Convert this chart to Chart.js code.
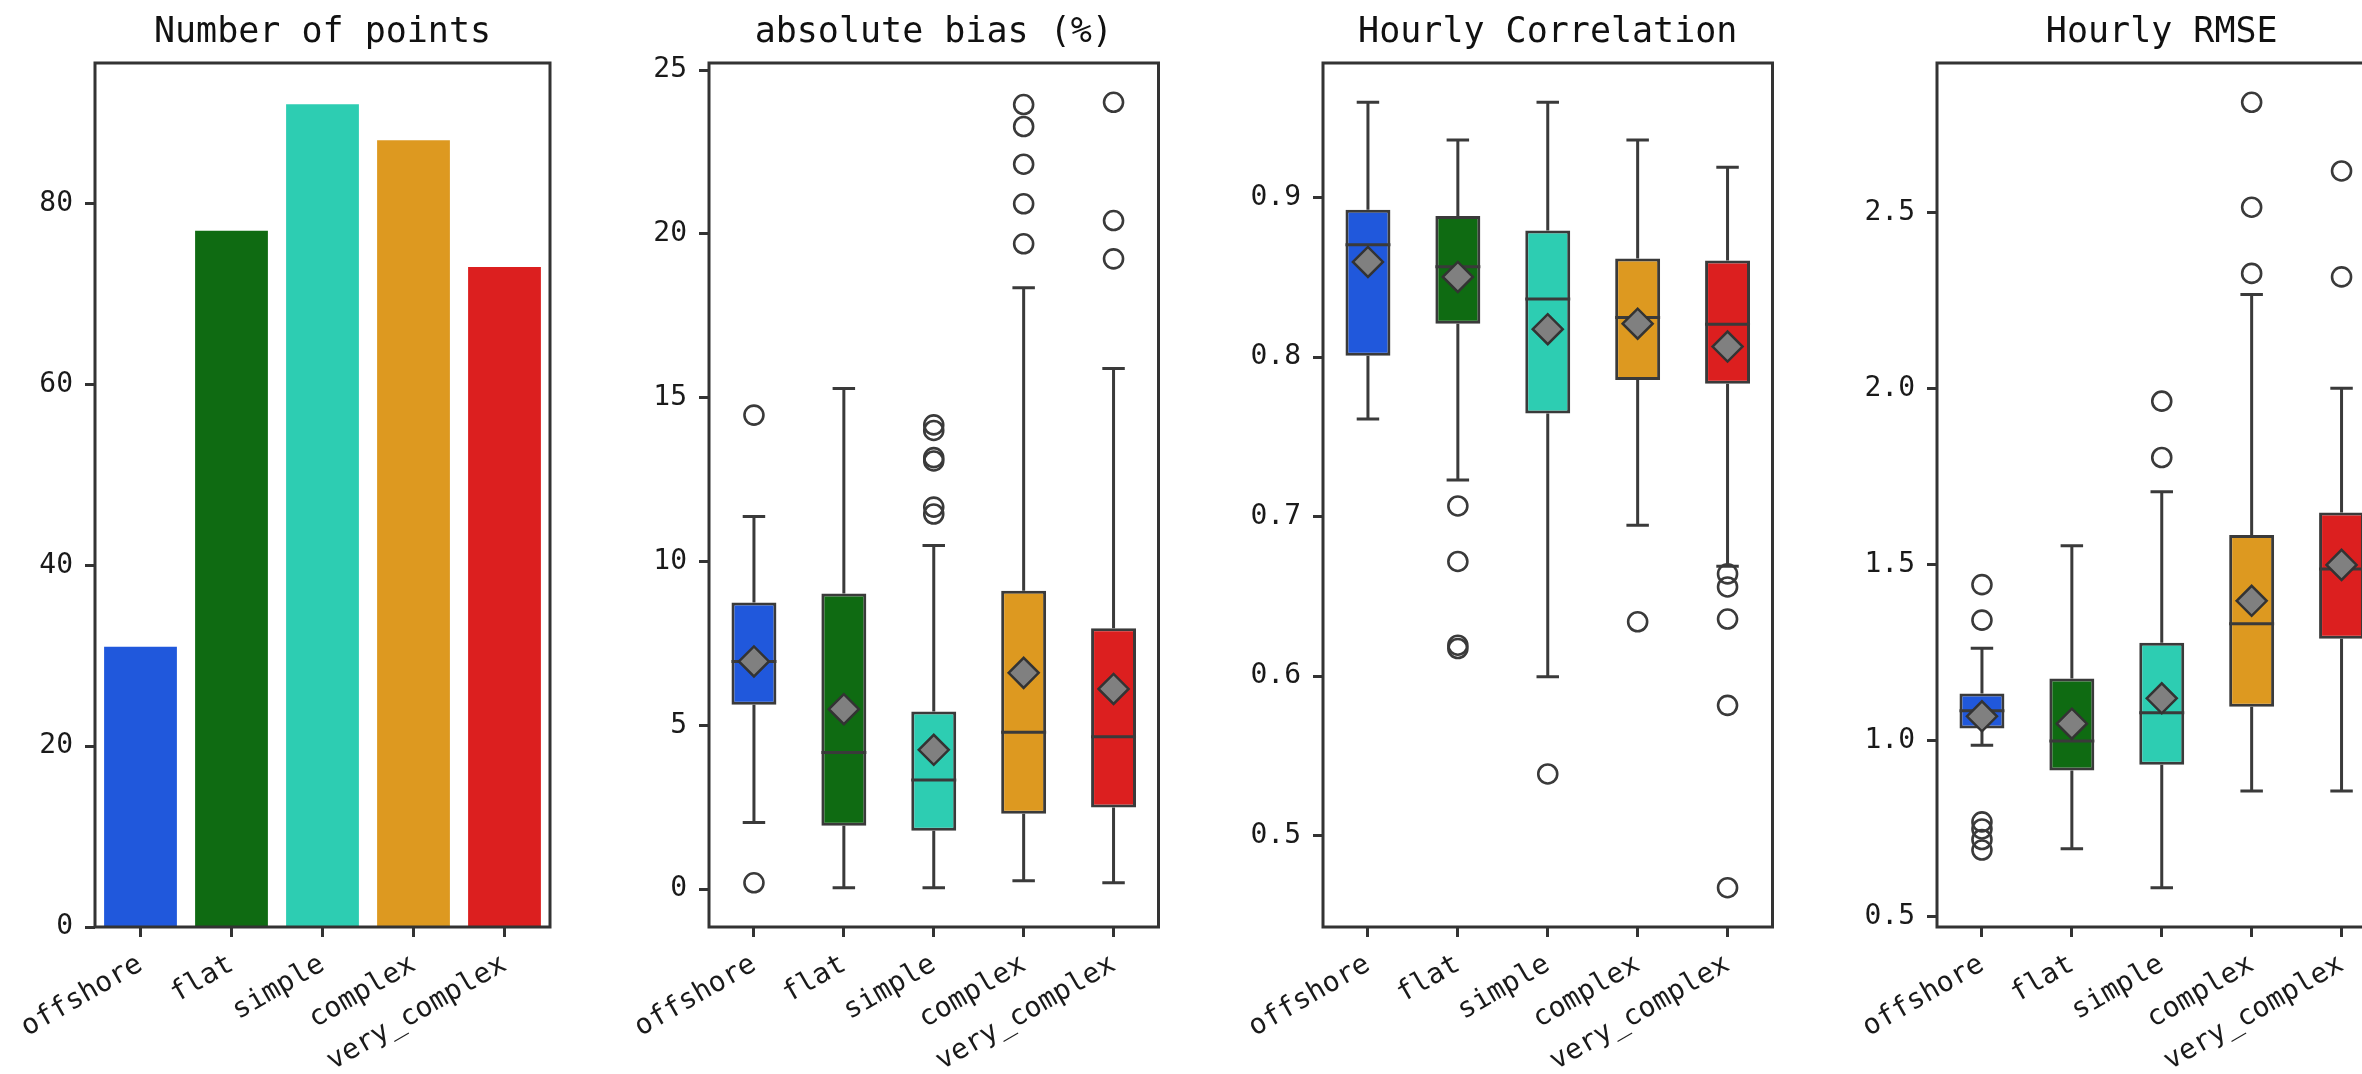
<!DOCTYPE html>
<html>
<head>
<meta charset="utf-8">
<script src="https://cdn.jsdelivr.net/npm/chart.js@4.4.0/dist/chart.umd.min.js"></script>
<style>
  html, body { margin: 0; padding: 0; background: #fff; overflow: hidden; }
  body { width: 2362px; height: 1074px; position: relative; }
  canvas { position: absolute; top: 0; }
</style>
</head>
<body>
<canvas id="points" width="562" height="1074" style="left:0px"></canvas>
<canvas id="bias" width="562" height="1074" style="left:614px"></canvas>
<canvas id="corr" width="562" height="1074" style="left:1228px"></canvas>
<canvas id="rmse" width="562" height="1074" style="left:1842px"></canvas>
<script>
const categories = ["offshore", "flat", "simple", "complex", "very_complex"];
const colors = ["#2058DC", "#0F6B12", "#2DCDB2", "#DD9920", "#DC1F1F"];

// Number of points
const pointCounts = [31, 77, 91, 87, 73];
const pointTicks = [0, 20, 40, 60, 80];

// absolute bias (%)
const biasLow = [2.03, 0.04, 0.04, 0.25, 0.19];
const biasQ1 = [5.63, 1.93, 1.78, 2.3, 2.49];
const biasMedian = [6.95, 4.17, 3.33, 4.79, 4.65];
const biasQ3 = [8.75, 9.02, 5.42, 9.11, 7.96];
const biasHigh = [11.37, 15.28, 10.49, 18.36, 15.89];
const biasMean = [6.95, 5.49, 4.25, 6.6, 6.11];
const biasOutliers = [
  [14.47, 0.19],
  [],
  [14.17, 14.0, 13.17, 13.07, 11.66, 11.45],
  [23.95, 23.28, 22.13, 20.92, 19.7],
  [24.02, 20.41, 19.24],
];
const biasTicks = [0, 5, 10, 15, 20, 25];

// Hourly Correlation
const corrLow = [0.7612, 0.723, 0.5997, 0.6946, 0.6689];
const corrQ1 = [0.8008, 0.8209, 0.7647, 0.7857, 0.7832];
const corrMedian = [0.8704, 0.8566, 0.8364, 0.8248, 0.8205];
const corrQ3 = [0.8923, 0.8884, 0.8794, 0.8618, 0.8605];
const corrHigh = [0.9597, 0.9361, 0.9597, 0.9361, 0.9189];
const corrMean = [0.8596, 0.8502, 0.8175, 0.8209, 0.8066];
const corrOutliers = [
  [],
  [0.7067, 0.6719, 0.6194, 0.6173],
  [0.5387],
  [0.6341],
  [0.6641, 0.6559, 0.6358, 0.5817, 0.4674],
];
const corrTicks = [0.5, 0.6, 0.7, 0.8, 0.9];

// Hourly RMSE
const rmseLow = [0.988, 0.694, 0.583, 0.858, 0.858];
const rmseQ1 = [1.035, 0.916, 0.932, 1.097, 1.29];
const rmseMedian = [1.086, 1.0, 1.08, 1.333, 1.488];
const rmseQ3 = [1.1345, 1.177, 1.279, 1.585, 1.649];
const rmseHigh = [1.263, 1.554, 1.708, 2.268, 2.002];
const rmseMean = [1.07, 1.049, 1.121, 1.398, 1.5];
const rmseOutliers = [
  [1.444, 1.343, 0.77, 0.75, 0.72, 0.69],
  [],
  [1.965, 1.805],
  [2.814, 2.516, 2.328],
  [2.619, 2.318],
];
const rmseTicks = [0.5, 1.0, 1.5, 2.0, 2.5];

const FONT = "'DejaVu Sans Mono', monospace";
const LINE = "#3a3a3a";

// whiskers, caps, medians and the frame round the plot
function boxExtras(stats) {
  return {
    id: "boxExtras",
    beforeDatasetsDraw(chart) {
      if (!stats) return;
      const ctx = chart.ctx;
      const y = chart.scales.y;
      ctx.save();
      ctx.strokeStyle = LINE;
      ctx.lineWidth = 3;
      chart.getDatasetMeta(0).data.forEach((bar, i) => {
        const cap = bar.width / 4;
        const yLow = y.getPixelForValue(stats.low[i]);
        const yHigh = y.getPixelForValue(stats.high[i]);
        ctx.beginPath();
        ctx.moveTo(bar.x, y.getPixelForValue(stats.q3[i]));
        ctx.lineTo(bar.x, yHigh);
        ctx.moveTo(bar.x, y.getPixelForValue(stats.q1[i]));
        ctx.lineTo(bar.x, yLow);
        ctx.moveTo(bar.x - cap, yHigh);
        ctx.lineTo(bar.x + cap, yHigh);
        ctx.moveTo(bar.x - cap, yLow);
        ctx.lineTo(bar.x + cap, yLow);
        ctx.stroke();
      });
      ctx.restore();
    },
    afterDatasetDraw(chart, args) {
      if (!stats || args.index !== 0) return;
      const ctx = chart.ctx;
      const y = chart.scales.y;
      ctx.save();
      ctx.strokeStyle = LINE;
      ctx.lineWidth = 3;
      chart.getDatasetMeta(0).data.forEach((bar, i) => {
        const ym = y.getPixelForValue(stats.median[i]);
        ctx.beginPath();
        ctx.moveTo(bar.x - bar.width / 2, ym);
        ctx.lineTo(bar.x + bar.width / 2, ym);
        ctx.stroke();
      });
      ctx.restore();
    },
    afterDatasetsDraw(chart) {
      const a = chart.chartArea;
      const ctx = chart.ctx;
      ctx.save();
      ctx.strokeStyle = "#333";
      ctx.lineWidth = 3;
      ctx.strokeRect(a.left, a.top, a.right - a.left, a.bottom - a.top);
      ctx.restore();
    },
  };
}

function makePanel(id, title, datasets, yMin, yMax, ticks, decimals, stats) {
  new Chart(document.getElementById(id), {
    type: "bar",
    data: { labels: categories, datasets: datasets },
    plugins: [boxExtras(stats)],
    options: {
      responsive: false,
      animation: false,
      devicePixelRatio: 1,
      layout: { padding: { top: 0, left: 0, right: 12, bottom: 0 } },
      plugins: {
        legend: { display: false },
        tooltip: { enabled: false },
        title: {
          display: true,
          text: title,
          fullSize: false,
          color: "#111",
          font: { family: FONT, size: 35, weight: "normal", lineHeight: 1.2 },
          padding: { top: 12, bottom: 9 },
        },
      },
      scales: {
        x: {
          offset: true,
          border: { display: false },
          grid: {
            offset: false,
            drawOnChartArea: false,
            drawTicks: true,
            tickLength: 10,
            tickWidth: 3,
            tickColor: "#333",
          },
          ticks: {
            autoSkip: false,
            minRotation: 30,
            maxRotation: 30,
            padding: 11,
            color: "#1a1a1a",
            font: { family: FONT, size: 28 },
          },
          afterFit: (s) => {
            s.height = 147;
            s.paddingLeft = 0;
            s.paddingRight = 0;
          },
        },
        y: {
          min: yMin,
          max: yMax,
          border: { display: false },
          grid: {
            drawOnChartArea: false,
            drawTicks: true,
            tickLength: 10,
            tickWidth: 3,
            tickColor: "#333",
          },
          ticks: {
            padding: 12,
            color: "#1a1a1a",
            font: { family: FONT, size: 28 },
            callback: (v) => Number(v).toFixed(decimals),
          },
          afterBuildTicks: (s) => { s.ticks = ticks.map((v) => ({ value: v })); },
          afterFit: (s) => { s.width = 95; },
        },
      },
    },
  });
}

function boxDatasets(low, q1, median, q3, high, mean, outliers) {
  const outlierPoints = [];
  outliers.forEach((list, i) => {
    list.forEach((v) => outlierPoints.push({ x: categories[i], y: v }));
  });
  return [
    {
      type: "bar",
      data: categories.map((c, i) => [q1[i], q3[i]]),
      backgroundColor: colors,
      borderColor: LINE,
      borderWidth: 3,
      borderSkipped: false,
      barPercentage: 0.5,
      categoryPercentage: 1.0,
      order: 3,
    },
    {
      type: "scatter",
      data: outlierPoints,
      pointStyle: "circle",
      pointRadius: 9.5,
      backgroundColor: "rgba(0,0,0,0)",
      borderColor: LINE,
      borderWidth: 2.6,
      order: 2,
    },
    {
      type: "scatter",
      data: categories.map((c, i) => ({ x: c, y: mean[i] })),
      pointStyle: "rectRot",
      pointRadius: 15,
      backgroundColor: "#808080",
      borderColor: "#333",
      borderWidth: 2.5,
      order: 1,
    },
  ];
}

// axis limits like matplotlib: 5% margin round the data
function limits(low, high, outliers) {
  const all = low.concat(high, outliers.flat());
  const lo = Math.min(...all);
  const hi = Math.max(...all);
  const pad = (hi - lo) * 0.05;
  return [lo - pad, hi + pad];
}

makePanel("points", "Number of points", [
  {
    data: pointCounts,
    backgroundColor: colors,
    borderWidth: 0,
    barPercentage: 0.8,
    categoryPercentage: 1.0,
  },
], 0, Math.max(...pointCounts) * 1.05, pointTicks, 0, null);

const biasLim = limits(biasLow, biasHigh, biasOutliers);
makePanel("bias", "absolute bias (%)",
  boxDatasets(biasLow, biasQ1, biasMedian, biasQ3, biasHigh, biasMean, biasOutliers),
  biasLim[0], biasLim[1], biasTicks, 0,
  { low: biasLow, q1: biasQ1, median: biasMedian, q3: biasQ3, high: biasHigh });

const corrLim = limits(corrLow, corrHigh, corrOutliers);
makePanel("corr", "Hourly Correlation",
  boxDatasets(corrLow, corrQ1, corrMedian, corrQ3, corrHigh, corrMean, corrOutliers),
  corrLim[0], corrLim[1], corrTicks, 1,
  { low: corrLow, q1: corrQ1, median: corrMedian, q3: corrQ3, high: corrHigh });

const rmseLim = limits(rmseLow, rmseHigh, rmseOutliers);
makePanel("rmse", "Hourly RMSE",
  boxDatasets(rmseLow, rmseQ1, rmseMedian, rmseQ3, rmseHigh, rmseMean, rmseOutliers),
  rmseLim[0], rmseLim[1], rmseTicks, 1,
  { low: rmseLow, q1: rmseQ1, median: rmseMedian, q3: rmseQ3, high: rmseHigh });
</script>
</body>
</html>
